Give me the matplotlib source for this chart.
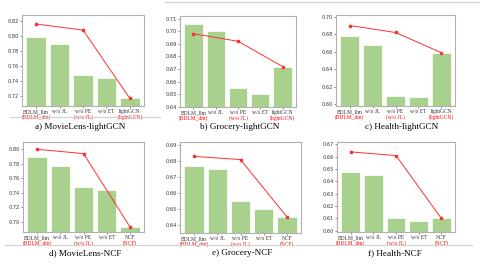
import matplotlib
matplotlib.use("Agg")
from matplotlib import pyplot as plt
from matplotlib.lines import Line2D

W, H = 480, 269

methods_gcn = ["BDLM_llm", "w/o JL", "w/o PE", "w/o ET", "lightGCN"]
methods_ncf = ["BDLM_llm", "w/o JL", "w/o PE", "w/o ET", "NCF"]
red_gcn = ["(BDLM_dm)", "(w/o JL)", "(lightGCN)"]
red_ncf = ["(BDLM_dm)", "(w/o JL)", "(NCF)"]
red_pos = [0, 2, 4]

titles = ["a) MovieLens-lightGCN", "b) Grocery-lightGCN", "c) Health-lightGCN",
          "d) MovieLens-NCF", "e) Grocery-NCF", "f) Health-NCF"]

bars = [
    [0.799, 0.790, 0.748, 0.744, 0.717],
    [0.706, 0.700, 0.655, 0.650, 0.672],
    [0.678, 0.668, 0.610, 0.608, 0.659],
    [0.789, 0.777, 0.748, 0.744, 0.693],
    [0.677, 0.675, 0.655, 0.650, 0.645],
    [0.648, 0.645, 0.610, 0.608, 0.610],
]
lines = [
    [0.816, 0.808, 0.717],
    [0.698, 0.692, 0.672],
    [0.690, 0.682, 0.659],
    [0.800, 0.794, 0.693],
    [0.683, 0.681, 0.645],
    [0.664, 0.661, 0.610],
]
ylims = [(0.707, 0.828), (0.640, 0.712), (0.598, 0.702),
         (0.686, 0.810), (0.635, 0.692), (0.599, 0.672)]
yticks = [[0.72, 0.74, 0.76, 0.78, 0.80, 0.82],
          [0.64, 0.65, 0.66, 0.67, 0.68, 0.69, 0.70, 0.71],
          [0.60, 0.62, 0.64, 0.66, 0.68, 0.70],
          [0.70, 0.72, 0.74, 0.76, 0.78, 0.80],
          [0.64, 0.65, 0.66, 0.67, 0.68, 0.69],
          [0.60, 0.61, 0.62, 0.63, 0.64, 0.65, 0.66, 0.67]]

# axes boxes in pixels: left, right, top, bottom
boxes = [(22, 144, 15, 106), (180, 296, 16, 107), (336, 455, 15, 106),
         (23, 144, 142, 232), (180, 301, 142, 233), (337, 455, 142, 232)]
title_xy = [(80, 127), (240, 127), (402, 127), (85, 253), (242, 253), (395, 253)]

fig = plt.figure(figsize=(W / 100, H / 100), dpi=100)
serif = "Liberation Serif"

for i in range(6):
    l, r, t, b = boxes[i]
    ax = fig.add_axes([l / W, 1 - b / H, (r - l) / W, (b - t) / H])
    names = methods_gcn if i < 3 else methods_ncf
    reds = red_gcn if i < 3 else red_ncf
    xs = range(len(names))
    ax.bar(xs, bars[i], width=0.82, color="#a9d18e", edgecolor="white", linewidth=0.5)
    ax.plot(red_pos, lines[i], color="#ff3030", lw=0.7, marker="s", ms=2)
    ax.set_ylim(*ylims[i])
    ax.set_xlim(-0.6, 4.6)
    ax.set_yticks(yticks[i])
    ax.set_yticklabels(["%.2f" % v for v in yticks[i]], fontsize=3.6, color="#333333")
    ax.set_xticks(list(xs))
    ax.set_xticklabels(names, fontsize=4.0, fontfamily=serif)
    ax.tick_params(length=1.5, width=0.4, pad=1, colors="#333333")
    for s in ax.spines.values():
        s.set_color("#b0b0b0")
        s.set_linewidth(0.8)
    for p, txt in zip(red_pos, reds):
        ax.text(p, -0.09, txt, transform=ax.get_xaxis_transform(), ha="center",
                va="top", fontsize=4.0, color="red", fontfamily=serif)
    tx, ty = title_xy[i]
    fig.text(tx / W, 1 - ty / H, titles[i], ha="center", va="center",
             fontsize=6.6, fontfamily=serif)

# thin gray separators
sep = [((10, 160), 117), ((165, 480), 2), ((5, 472), 245)]
for (x0, x1), y in sep:
    fig.add_artist(Line2D([x0 / W, x1 / W], [1 - y / H, 1 - y / H],
                          color="#d0d0d0", lw=0.8))

fig.savefig("out.png", dpi=100)
